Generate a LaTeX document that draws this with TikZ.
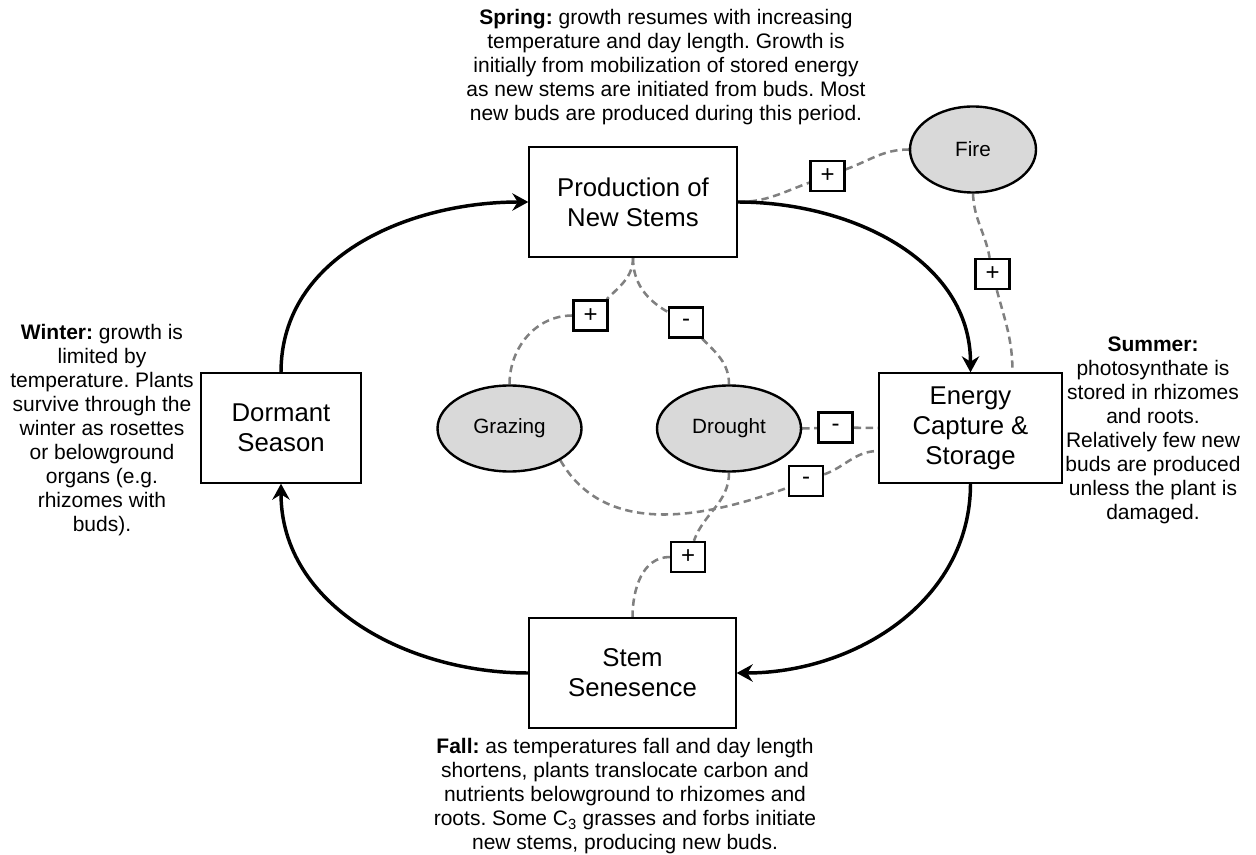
\documentclass[tikz,border=0pt]{standalone}
\usepackage{fontspec}
\setmainfont{Liberation Sans}
\frenchspacing
\usetikzlibrary{arrows.meta,backgrounds,shapes.geometric}
\tikzset{
    stage/.style={draw, line width=1pt, fill=white, minimum width=#1, minimum height=82.5pt, inner sep=0pt, align=center, font=\fontsize{19.3}{22.5}\selectfont},
    factor/.style={ellipse, draw, line width=1.8pt, fill=gray!30, minimum width=108pt, minimum height=64.5pt, inner sep=0pt, font=\fontsize{15.5}{18}\selectfont},
    sign/.style={draw, line width=1.8pt, fill=white, minimum width=25.5pt, minimum height=22.5pt, inner sep=0pt, font=\fontsize{18}{20}\selectfont},
    note/.style={align=center, inner sep=0pt, font=\fontsize{15.75}{18}\selectfont},
    flow/.style={-{Stealth[length=12pt, width=13pt, inset=4pt]}, line width=2.6pt},
    effect/.style={draw=gray, line width=1.9pt, dash pattern=on 5.5pt off 3.5pt}
}

\begin{document}
\begin{tikzpicture}[x=0.75pt, y=0.75pt]
    \useasboundingbox (0,0) rectangle (1256,-855);

    % Seasonal stages
    \node[stage=156pt] (prod) at (633,-202) {Production of\\New Stems};
    \node[stage=137.25pt] (energy) at (970.5,-428) {Energy\\Capture \&\\Storage};
    \node[stage=155.25pt] (stem) at (632.5,-673) {Stem\\Senesence};
    \node[stage=120pt] (dormant) at (281,-428) {Dormant\\Season};

    % Disturbances
    \node[factor, minimum width=94.5pt] (fire) at (973,-149.5) {Fire};
    \node[factor] (graz) at (509.5,-428.5) {Grazing};
    \node[factor] (drought) at (729,-428.5) {Drought};

    % Effect signs
    \node[sign] (pf) at (827.5,-176) {+};
    \node[sign] (fe) at (992.5,-274) {+};
    \node[sign] (pg) at (590.5,-315.5) {+};
    \node[sign] (pd) at (686,-322.5) {-};
    \node[sign] (dm) at (835.5,-427.5) {-};
    \node[sign] (gm) at (806,-481) {-};
    \node[sign] (ds) at (688,-557) {+};

    % Season notes
    \node[note] (spring) at (666,-67) {\textbf{Spring:} growth resumes with increasing\\temperature and day length. Growth is\\initially from mobilization of stored energy\\as new stems are initiated from buds. Most\\new buds are produced during this period.};
    \node[note] (winter) at (102,-430) {\textbf{Winter:} growth is\\limited by\\temperature. Plants\\survive through the\\winter as rosettes\\or belowground\\organs (e.g.\\rhizomes with\\buds).};
    \node[note] (summer) at (1153,-430) {\textbf{Summer:}\\photosynthate is\\stored in rhizomes\\and roots.\\Relatively few new\\buds are produced\\unless the plant is\\damaged.};
    \node[note] (fall) at (625,-796) {\textbf{Fall:} as temperatures fall and day length\\shortens, plants translocate carbon and\\nutrients belowground to rhizomes and\\roots. Some C\textsubscript{3} grasses and forbs initiate\\new stems, producing new buds.};

    % Annual cycle
    \draw[flow] (dormant.north) to[out=90, in=180] (prod.west);
    \draw[flow] (prod.east) to[out=0, in=90] (energy.north);
    \draw[flow] (energy.south) to[out=-90, in=0] (stem.east);
    \draw[flow] (stem.west) to[out=180, in=-90] (dormant.south);

    % Disturbance effects
    \begin{scope}[on background layer]
        \draw[effect] (prod.east) to[out=0, in=200] (pf) to[out=20, in=180] (fire.west);
        \draw[effect] (fire.south) to[out=-88, in=100] (fe) to[out=-75, in=90] ([xshift=31.5pt]energy.north);
        \draw[effect] (prod.south) to[out=-90, in=45] (pg) to[out=180, in=90] (graz.north);
        \draw[effect] (prod.south) to[out=-90, in=150] (pd) to[out=-45, in=90] (drought.north);
        \draw[effect] (drought.east) -- (dm) -- (energy.west);
        \draw[effect] (graz.-32) to[out=-60, in=200] (gm) to[out=20, in=180] ([yshift=-17.25pt]energy.west);
        \draw[effect] (drought.south) to[out=-90, in=70] (ds) to[out=180, in=90] (stem.north);
    \end{scope}
\end{tikzpicture}
\end{document}
